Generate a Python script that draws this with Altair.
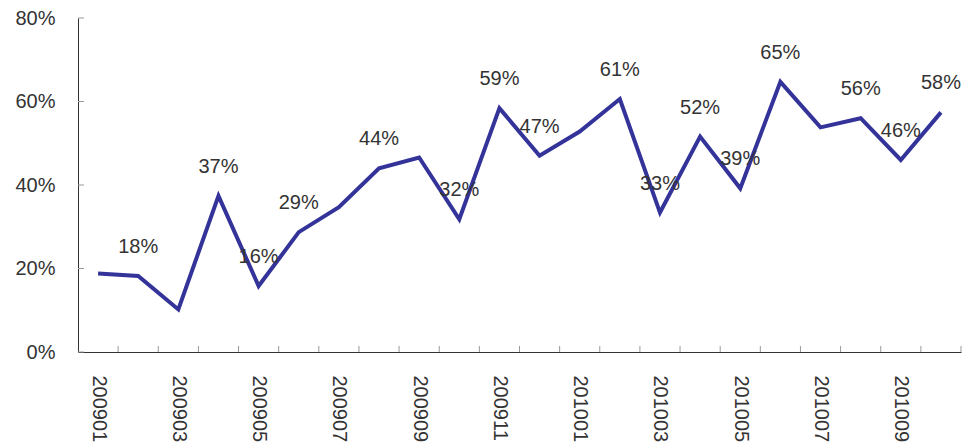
import altair as alt
import pandas as pd

months = ["200901", "200902", "200903", "200904", "200905", "200906", "200907",
          "200908", "200909", "200910", "200911", "200912", "201001", "201002",
          "201003", "201004", "201005", "201006", "201007", "201008", "201009", "201010"]
values = [18.8, 18.2, 10.2, 37.4, 15.8, 28.7, 34.7, 44.0, 46.6, 31.8, 58.4,
          47.0, 52.8, 60.6, 33.4, 51.6, 39.2, 64.7, 53.8, 56.0, 46.0, 57.4]
labels = ["", "18%", "", "37%", "16%", "29%", "", "44%", "", "32%", "59%",
          "47%", "", "61%", "33%", "52%", "39%", "65%", "", "56%", "46%", "58%"]
y_ticks = [0, 20, 40, 60, 80]

n = len(months)
df = pd.DataFrame({"i": list(range(n)), "month": months, "v": values, "lab": labels})
df_xt = pd.DataFrame({"i": [k + 0.5 for k in range(n)]})
df_yt = pd.DataFrame({"v": y_ticks})

W, H = 883, 334
FONT = "Liberation Sans"
TXT = "#333333"

xscale = alt.Scale(domain=[-0.5, n - 0.5], nice=False, zero=False)
yscale = alt.Scale(domain=[0, 80], nice=False)

label_expr = "[" + ",".join(f"'{m}'" for m in months) + "][datum.value]"

x_axis = alt.Axis(
    values=list(range(0, n, 2)), labelExpr=label_expr, title=None, grid=False,
    ticks=False, labelAngle=90, labelAlign="left", labelBaseline="middle",
    labelPadding=23, labelFontSize=20, labelFont=FONT, labelColor=TXT,
    domainColor="#333333", domainWidth=1, labelOverlap=False,
)
y_axis = alt.Axis(
    values=y_ticks, labelExpr="datum.value + '%'", title=None, grid=False,
    ticks=False, labelPadding=23, labelFontSize=20, labelFont=FONT,
    labelColor=TXT, domainColor="#333333", domainWidth=1,
)

X = alt.X("i:Q", scale=xscale, axis=x_axis)
Y = alt.Y("v:Q", scale=yscale, axis=y_axis)

base = alt.Chart(df)
line = base.mark_line(color="#333399", strokeWidth=4, strokeJoin="miter").encode(x=X, y=Y)
text = base.mark_text(dy=-29, fontSize=20, font=FONT, color=TXT, baseline="middle").encode(
    x=X, y=Y, text="lab:N",
)
xt = alt.Chart(df_xt).mark_rule(color="#999999", strokeWidth=1).encode(
    x=X, y=alt.value(H - 6), y2=alt.value(H),
)
yt = alt.Chart(df_yt).mark_rule(color="#999999", strokeWidth=1).encode(
    y=Y, x=alt.value(0), x2=alt.value(6),
)

chart = alt.layer(line, xt, yt, text).properties(
    width=W, height=H,
    autosize=alt.AutoSizeParams(type="none"),
    padding={"left": 78, "top": 18, "right": 11, "bottom": 93},
    background="white",
).configure_view(stroke=None)

chart.save("out.html", embed_options={"renderer": "svg", "actions": False})
